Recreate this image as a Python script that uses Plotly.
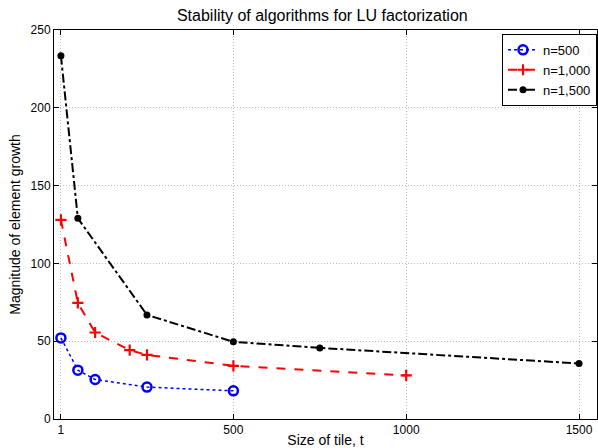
import plotly.graph_objects as go

x500 = [1, 50, 100, 250, 500]
y500 = [52.1, 31.4, 25.4, 20.5, 18.1]
x1000 = [1, 50, 100, 200, 250, 500, 1000]
y1000 = [128, 74.6, 55.6, 44.2, 41.2, 34.2, 28.0]
x1500 = [1, 50, 250, 500, 750, 1500]
y1500 = [233.5, 129, 66.9, 49.6, 45.7, 35.7]

xticks = [1, 500, 1000, 1500]
yticks = [0, 50, 100, 150, 200, 250]

FONT = "Liberation Sans, Arial, Helvetica"

fig = go.Figure()
fig.add_trace(go.Scatter(x=x500, y=y500, name="n=500", mode="lines+markers",
                         line=dict(color="blue", dash="dot", width=1.5),
                         marker=dict(symbol="circle-open", size=9, line=dict(width=2.5, color="blue"))))
fig.add_trace(go.Scatter(x=x1000, y=y1000, name="n=1,000", mode="lines+markers",
                         line=dict(color="red", dash="dash", width=2),
                         marker=dict(symbol="cross-thin", size=8, line=dict(width=2.2, color="red"))))
fig.add_trace(go.Scatter(x=x1500, y=y1500, name="n=1,500", mode="lines+markers",
                         line=dict(color="black", dash="dashdot", width=2),
                         marker=dict(symbol="circle", size=7, color="black")))

axis_common = dict(showline=True, linecolor="black", linewidth=1, mirror="ticks",
                   ticks="inside", ticklen=5, tickcolor="black", automargin=False,
                   showgrid=True, gridcolor="#bdbdbd", griddash="1px,2px", gridwidth=1,
                   zeroline=False, tickfont=dict(family=FONT, size=12, color="black"))

fig.update_xaxes(range=[-19, 1552], tickvals=xticks, ticktext=[str(v) for v in xticks],
                 title=dict(text="Size of tile, t", standoff=2,
                            font=dict(family=FONT, size=14, color="black")),
                 **axis_common)
fig.update_yaxes(range=[0, 250], tickvals=yticks,
                 title=dict(text="Magnitude of element growth", standoff=6,
                            font=dict(family=FONT, size=14, color="black")),
                 **axis_common)

fig.update_layout(
    width=598, height=448,
    margin=dict(l=54, r=1, t=30, b=29, autoexpand=False),
    paper_bgcolor="white", plot_bgcolor="white",
    title=dict(text="Stability of algorithms for LU factorization", x=0.539, xanchor="center",
               y=1 - 15 / 448, yanchor="middle", yref="container",
               font=dict(family=FONT, size=16, color="black")),
    legend=dict(x=1, xanchor="right", y=0.99, yanchor="top", bgcolor="white",
                bordercolor="black", borderwidth=1,
                font=dict(family=FONT, size=13, color="black"),
                tracegroupgap=0, itemwidth=30),
    showlegend=True,
)

# remove the default 8px page margin so the 598x448 figure fills the window exactly
fig.write_html("out.html", config={"displayModeBar": False},
               post_script="document.body.style.margin='0';document.body.style.overflow='hidden';")
